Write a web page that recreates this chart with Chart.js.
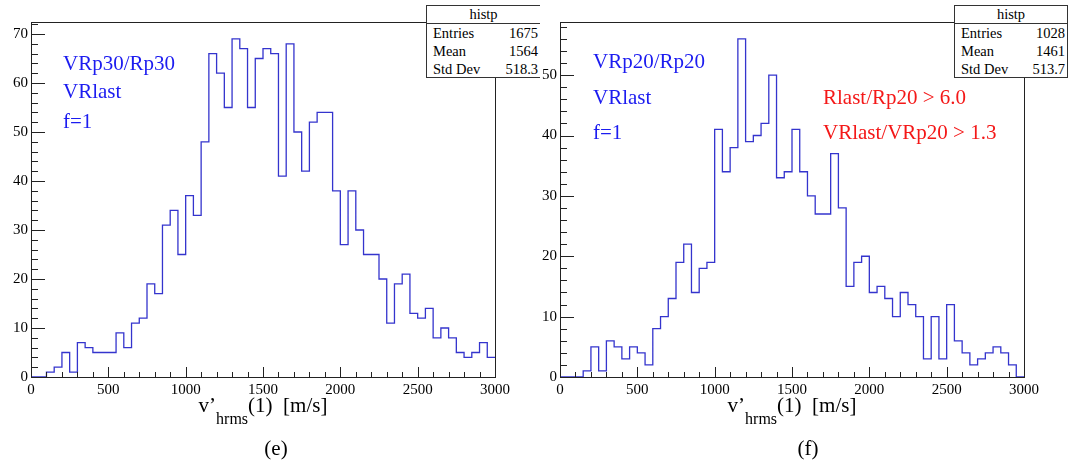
<!DOCTYPE html>
<html>
<head>
<meta charset="utf-8">
<script src="https://cdn.jsdelivr.net/npm/chart.js@4.4.1/dist/chart.umd.min.js"></script>
<style>
  body { margin: 0; width: 1079px; height: 464px; background: #fff; position: relative; overflow: hidden; font-family: 'Liberation Serif', 'Times New Roman', serif; }
  .panel { position: absolute; top: 0; width: 540px; height: 400px; }
  .stats { position: absolute; top: 5px; width: 114px; height: 73px; background: #fff; border: 1px solid #333; box-sizing: border-box; font-size: 14.5px; color: #000; }
  .stats .ttl { height: 17px; line-height: 17px; text-align: center; border-bottom: 1px solid #333; }
  .stats .row { height: 18px; line-height: 18px; display: flex; justify-content: space-between; padding: 0 2px 0 6px; }
  .note { position: absolute; font-size: 21px; line-height: 21px; white-space: nowrap; }
  .blue { color: #1c1cf0; }
  .red { color: #f41818; }
  .xtitle { position: absolute; top: 395px; font-size: 21px; line-height: 21px; white-space: nowrap; transform: translateX(-50%); }
  .xtitle .sub { font-size: 16px; position: relative; top: 12px; }
  .caption { position: absolute; top: 438px; font-size: 21px; line-height: 21px; transform: translateX(-50%); }
</style>
</head>
<body>
<div class="panel" style="left:0"><canvas id="histE" width="540" height="400"></canvas></div>
<div class="panel" style="left:529px"><canvas id="histF" width="540" height="400"></canvas></div>

<div class="note blue" style="left:63px; top:53px">VRp30/Rp30</div>
<div class="note blue" style="left:63px; top:81px">VRlast</div>
<div class="note blue" style="left:63px; top:111px">f=1</div>

<div class="note blue" style="left:593px; top:51px">VRp20/Rp20</div>
<div class="note blue" style="left:593px; top:87px">VRlast</div>
<div class="note blue" style="left:593px; top:122px">f=1</div>
<div class="note red" style="left:823px; top:87px">Rlast/Rp20 &gt; 6.0</div>
<div class="note red" style="left:823px; top:122px">VRlast/VRp20 &gt; 1.3</div>

<div class="xtitle" style="left:263px">v’<span class="sub">hrms</span>(1)&nbsp; [m/s]</div>
<div class="xtitle" style="left:792px">v’<span class="sub">hrms</span>(1)&nbsp; [m/s]</div>
<div class="caption" style="left:276px">(e)</div>
<div class="caption" style="left:808px">(f)</div>

<script>
// 60 bins of 50 m/s between 0 and 3000
const xMin = 0;
const xMax = 3000;
const binWidth = 50;
const xTicks = [0, 500, 1000, 1500, 2000, 2500, 3000];

// (e) VRp30/Rp30
const countsE = [
  0, 0, 1, 2, 5, 1, 7, 6, 5, 5,
  5, 9, 6, 11, 12, 19, 17, 31, 34, 25,
  37, 33, 48, 66, 62, 55, 69, 67, 55, 65,
  67, 66, 41, 68, 50, 42, 52, 54, 54, 38,
  27, 38, 30, 25, 25, 20, 11, 19, 21, 13,
  12, 14, 8, 10, 8, 5, 4, 5, 7, 4
];
const yTicksE = [0, 10, 20, 30, 40, 50, 60, 70];

// (f) VRp20/Rp20 with the Rlast / VRlast cuts
const countsF = [
  0, 0, 0, 1, 5, 1, 6, 5, 3, 5,
  4, 2, 8, 10, 13, 19, 22, 14, 18, 19,
  41, 34, 38, 56, 39, 40, 42, 50, 33, 34,
  41, 34, 30, 27, 27, 37, 28, 15, 19, 20,
  14, 15, 13, 10, 14, 12, 10, 3, 10, 3,
  12, 6, 4, 2, 3, 4, 5, 4, 2, 0
];
const yTicksF = [0, 10, 20, 30, 40, 50];

const statNames = ['Entries', 'Mean', 'Std Dev'];
const statsE = ['1675', '1564', '518.3'];
const statsF = ['1028', '1461', '513.7'];

// stats boxes
const makeStats = (left, values, clipRight) => {
  const box = document.createElement('div');
  box.className = 'stats';
  box.style.left = left + 'px';
  if (clipRight) box.style.borderRight = 'none';
  box.innerHTML = '<div class="ttl">histp</div>' +
    statNames.map((n, i) => `<div class="row"><span>${n}</span><span>${values[i]}</span></div>`).join('');
  document.body.appendChild(box);
};

// ROOT-style frame with ticks pointing inwards
const frameTicks = {
  id: 'frameTicks',
  afterDraw(chart, args, opts) {
    const { ctx, chartArea: a, scales: { x, y } } = chart;
    ctx.save();
    ctx.strokeStyle = '#222';
    ctx.lineWidth = 1;
    ctx.beginPath();
    for (let v = x.min; v <= x.max + 1e-6; v += opts.xMinor) {
      const px = Math.round(x.getPixelForValue(v)) + 0.5;
      const len = v % opts.xMajor === 0 ? 10 : 5;
      ctx.moveTo(px, a.bottom);
      ctx.lineTo(px, a.bottom - len);
    }
    for (let v = 0; v <= y.max; v += opts.yMinor) {
      const py = Math.round(y.getPixelForValue(v)) + 0.5;
      const len = v % opts.yMajor === 0 ? 14 : 7;
      ctx.moveTo(a.left, py);
      ctx.lineTo(a.left + len, py);
    }
    ctx.stroke();
    ctx.strokeRect(Math.round(a.left) + 0.5, Math.round(a.top) + 0.5,
      Math.round(a.right - a.left), Math.round(a.bottom - a.top));
    ctx.restore();
  }
};

const makeHist = (id, counts, yTicks) => {
  // points at the low edge of each bin, plus the closing edge
  const pts = counts.map((c, i) => ({ x: xMin + i * binWidth, y: c }));
  pts.push({ x: xMax, y: counts[counts.length - 1] });
  const yMax = Math.max(...counts) * 1.05;
  const tickFont = { family: "'Liberation Serif', serif", size: 15 };
  const plain = (v) => String(v);

  return new Chart(document.getElementById(id), {
    type: 'line',
    data: {
      datasets: [{
        data: pts,
        stepped: 'before',
        borderColor: 'rgb(52,52,205)',
        borderWidth: 1.3,
        pointRadius: 0,
        fill: false
      }]
    },
    options: {
      responsive: false,
      devicePixelRatio: 1,
      animation: false,
      layout: { padding: { left: 0, top: 22, right: 45, bottom: 0 } },
      plugins: {
        legend: { display: false },
        tooltip: { enabled: false },
        frameTicks: { xMinor: 100, xMajor: 500, yMinor: 2, yMajor: 10 }
      },
      scales: {
        x: {
          type: 'linear',
          min: xMin,
          max: xMax,
          grid: { display: false, drawTicks: false },
          border: { display: false },
          afterBuildTicks: (s) => { s.ticks = xTicks.map(v => ({ value: v })); },
          afterFit: (s) => { s.height = 23; },
          ticks: { color: '#000', font: tickFont, padding: 4, maxRotation: 0, autoSkip: false, callback: plain }
        },
        y: {
          min: 0,
          max: yMax,
          grid: { display: false, drawTicks: false },
          border: { display: false },
          afterBuildTicks: (s) => { s.ticks = yTicks.map(v => ({ value: v })); },
          afterFit: (s) => { s.width = 31; },
          ticks: { color: '#000', font: tickFont, padding: 3, callback: plain }
        }
      }
    },
    plugins: [frameTicks]
  });
};

makeHist('histE', countsE, yTicksE);
makeHist('histF', countsF, yTicksF);
makeStats(426, statsE, true);
makeStats(954, statsF, false);
</script>
</body>
</html>
